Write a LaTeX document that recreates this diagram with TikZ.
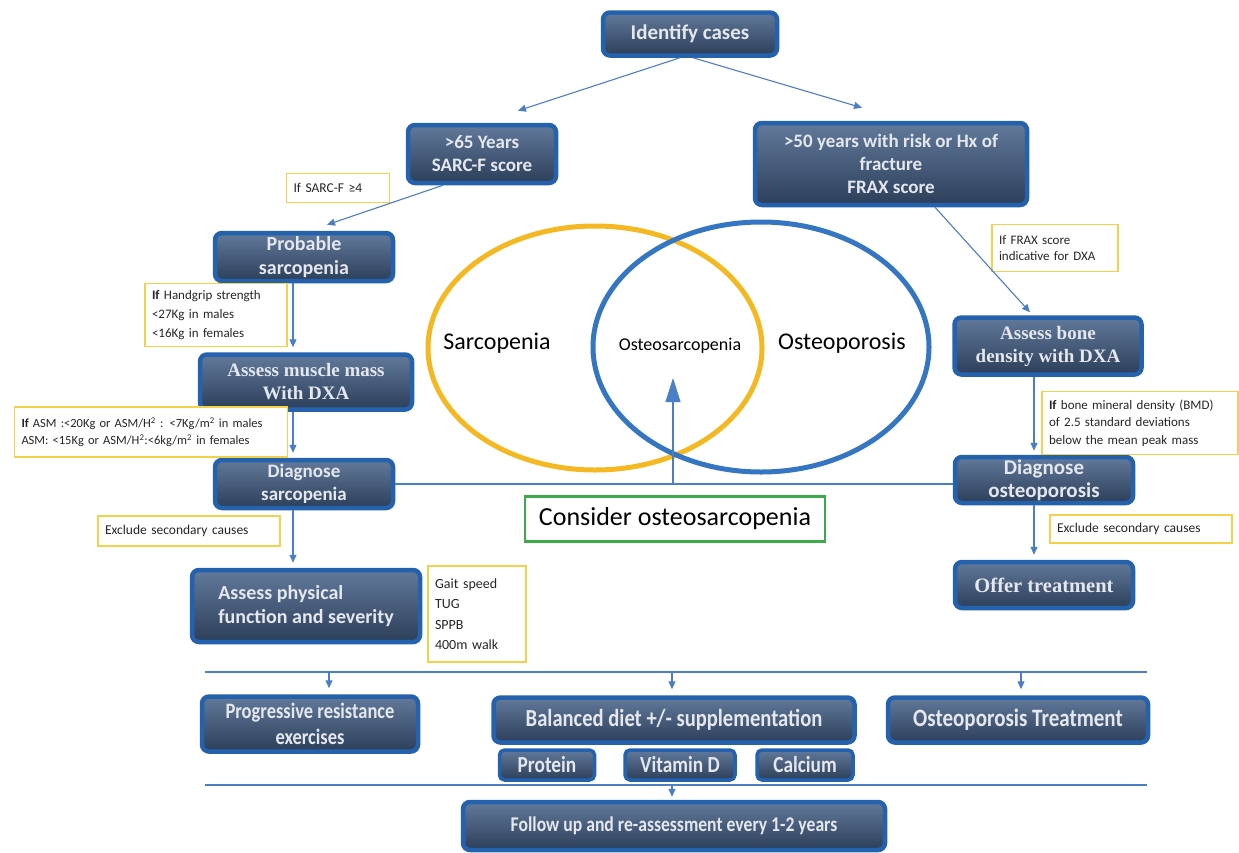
\documentclass[tikz,border=0pt]{standalone}
\usepackage{fontspec}
\setmainfont{Carlito}
\newfontfamily\serifbox{Liberation Serif}
\newfontfamily\condbox[FakeStretch=0.84]{Carlito}
\usetikzlibrary{arrows.meta,calc}

\definecolor{boxedge}{HTML}{2462AE}
\definecolor{boxtop}{HTML}{62799A}
\definecolor{boxbot}{HTML}{2C3F5A}
\definecolor{boxtext}{HTML}{E4E8EE}
\definecolor{linkblue}{HTML}{4A7EC6}
\definecolor{noteedge}{HTML}{F2D24A}
\definecolor{sarcring}{HTML}{F4B822}
\definecolor{osteoring}{HTML}{3476C2}
\definecolor{considerring}{HTML}{3DAA4A}

\tikzset{
	stepbox/.style={draw=boxedge, line width=4.5pt, rounded corners=7pt, top color=boxtop, bottom color=boxbot,
		text=boxtext, align=center, inner sep=2pt, font=\bfseries\fontsize{19}{23}\selectfont},
	serifstep/.style={stepbox, font=\serifbox\bfseries\fontsize{19}{23}\selectfont},
	condstep/.style={stepbox, font=\condbox\bfseries\fontsize{22}{26}\selectfont},
	smallstep/.style={condstep, line width=3.5pt, rounded corners=5pt, font=\condbox\bfseries\fontsize{23}{24}\selectfont},
	notebox/.style={draw=noteedge, line width=1.5pt, fill=white, align=left, inner sep=7pt, text=black!85,
		font=\fontsize{13.5}{17}\selectfont},
	link/.style={draw=linkblue, line width=1.1pt},
	arr/.style={link, -{Triangle[length=8pt,width=7pt]}},
	ring/.style={line width=5pt}
}

\begin{document}
\begin{tikzpicture}[x=1pt,y=-1pt]

	\fill[white] (0,0) rectangle (1239,852);
	\useasboundingbox (0,0) rectangle (1239,852);

	% venn
	\draw[ring, sarcring]	(595,348) ellipse [x radius=167, y radius=122];
	\draw[ring, osteoring]	(761,347) ellipse [x radius=168, y radius=125];
	\node (lblS)	at (497,343) {\fontsize{24}{28}\selectfont Sarcopenia};
	\node (lblOS)	at (680,346) {\fontsize{18}{22}\selectfont Osteosarcopenia};
	\node (lblO)	at (842,343) {\fontsize{24}{28}\selectfont Osteoporosis};

	% top
	\node[stepbox, minimum width=174, minimum height=43, font=\bfseries\fontsize{21}{23}\selectfont] (ident) at (690,34) {Identify cases};
	\node[stepbox, minimum width=148, minimum height=58] (sarcf) at (482,154) {>65 Years\\SARC-F score};
	\node[stepbox, minimum width=272, minimum height=82] (frax) at (891,164) {>50 years with risk or Hx of\\fracture\\FRAX score};

	% sarcopenia side
	\node[stepbox, minimum width=178, minimum height=48, font=\bfseries\fontsize{20}{24}\selectfont] (probS) at (304,257) {Probable\\sarcopenia};
	\node[serifstep, minimum width=212, minimum height=55] (muscle) at (306,382) {Assess muscle mass\\With DXA};
	\node[stepbox, minimum width=178, minimum height=48] (diagS) at (304,484) {Diagnose\\sarcopenia};
	\node[stepbox, minimum width=228, minimum height=72, align=left, inner xsep=12pt,
		font=\bfseries\fontsize{20}{24}\selectfont] (phys) at (306,606) {Assess physical\\function and severity};

	\node[notebox, text width=89, minimum height=29] (nSarcf) at (338,188) {If SARC-F ≥4};
	\node[notebox, text width=128, minimum height=61, font=\fontsize{13}{19}\selectfont] (nGrip) at (216,315)
		{\textbf{If} Handgrip strength\\<27Kg in males\\<16Kg in females};
	\node[notebox, text width=259, minimum height=50, font=\fontsize{12.5}{17}\selectfont] (nASM) at (151,432)
		{\textbf{If} ASM :<20Kg or ASM/H\textsuperscript{2} : <7Kg/m\textsuperscript{2} in males\\
		ASM: <15Kg or ASM/H\textsuperscript{2}:<6kg/m\textsuperscript{2} in females};
	\node[notebox, text width=168, minimum height=30] (nExclS) at (189,531) {Exclude secondary causes};
	\node[notebox, text width=84, minimum height=96, font=\fontsize{14}{20.5}\selectfont] (nGait) at (477,614)
		{Gait speed\\TUG\\SPPB\\400m walk};

	% osteoporosis side
	\node[serifstep, minimum width=187, minimum height=57] (bone) at (1048,346) {Assess bone\\density with DXA};
	\node[stepbox, minimum width=178, minimum height=46, font=\bfseries\fontsize{21}{23}\selectfont] (diagO) at (1044,480) {Diagnose\\osteoporosis};
	\node[serifstep, minimum width=178, minimum height=46, font=\serifbox\bfseries\fontsize{20.5}{23}\selectfont] (offer) at (1044,585) {Offer treatment};

	\node[notebox, text width=112, minimum height=47, font=\fontsize{13}{16}\selectfont] (nFrax) at (1055,248)
		{If FRAX score\\indicative for DXA};
	\node[notebox, text width=182, minimum height=63, font=\fontsize{13}{17.5}\selectfont] (nBMD) at (1140,423)
		{\textbf{If} bone mineral density (BMD)\\of 2.5 standard deviations\\below the mean peak mass};
	\node[notebox, text width=168, minimum height=28] (nExclO) at (1141,529) {Exclude secondary causes};

	\node[draw=considerring, line width=2.5pt, fill=white, minimum width=300, minimum height=45,
		font=\fontsize{26}{30}\selectfont] (consider) at (675,519) {Consider osteosarcopenia};

	% management
	\node[condstep, minimum width=216, minimum height=55] (prog) at (310,724) {Progressive resistance\\exercises};
	\node[condstep, minimum width=361, minimum height=45, font=\condbox\bfseries\fontsize{24.5}{26}\selectfont] (diet) at (674,720) {Balanced diet +/- supplementation};
	\node[condstep, minimum width=260, minimum height=45, font=\condbox\bfseries\fontsize{25}{26}\selectfont] (osteoT) at (1018,720) {Osteoporosis Treatment};
	\node[smallstep, minimum width=95, minimum height=30] (prot) at (547,765) {Protein};
	\node[smallstep, minimum width=110, minimum height=30] (vitD) at (680,765) {Vitamin D};
	\node[smallstep, minimum width=96, minimum height=30] (calc) at (805,765) {Calcium};
	\node[condstep, minimum width=422, minimum height=48, font=\condbox\bfseries\fontsize{21}{26}\selectfont] (follow) at (674,826) {Follow up and re-assessment every 1-2 years};

	% connectors
	\draw[arr] ([xshift=-10pt]ident.south) -- ([xshift=36pt,yshift=12pt]sarcf.north);
	\draw[arr] ([xshift=3pt]ident.south) -- ([xshift=-29pt,yshift=13pt]frax.north);
	\draw[arr] ([xshift=-39pt]sarcf.south) -- ([xshift=23pt,yshift=6pt]probS.north);
	\draw[arr] ([xshift=-11pt]probS.south) -- ([xshift=-13pt,yshift=5pt]muscle.north);
	\draw[arr] ([xshift=-13pt]muscle.south) -- ([xshift=-11pt,yshift=5pt]diagS.north);
	\draw[arr] ([xshift=-11pt]diagS.south) -- ([xshift=-13pt,yshift=5pt]phys.north);
	\draw[arr] ([xshift=44pt]frax.south) -- ([xshift=-18pt,yshift=3pt]bone.north);
	\draw[arr] ([xshift=-14pt]bone.south) -- ([xshift=-10pt,yshift=4pt]diagO.north);
	\draw[arr] ([xshift=-10pt]diagO.south) -- ([xshift=-10pt,yshift=5pt]offer.north);

	\draw[link] (diagS.east) -- (diagS.east -| diagO.west);
	\coordinate (vennTip) at (673,378);
	\draw[link, -{Triangle[length=24pt,width=15pt]}] (vennTip |- diagS.east) -- (vennTip);

	\coordinate (barA) at (205,672);
	\coordinate (barB) at (1147,672);
	\draw[link] (barA) -- (barB);
	\foreach \x/\to in {329/prog, 672/diet, 1021/osteoT}
	{
		\coordinate (drop) at (\x,672);
		\draw[arr, shorten >=6pt] (drop) -- (drop |- \to.north);
	}

	\coordinate (barC) at (205,785);
	\coordinate (barD) at (1147,785);
	\draw[link] (barC) -- (barD);
	\coordinate (dropF) at (672,785);
	\draw[arr, shorten >=3pt] (dropF) -- (dropF |- follow.north);

\end{tikzpicture}
\end{document}
